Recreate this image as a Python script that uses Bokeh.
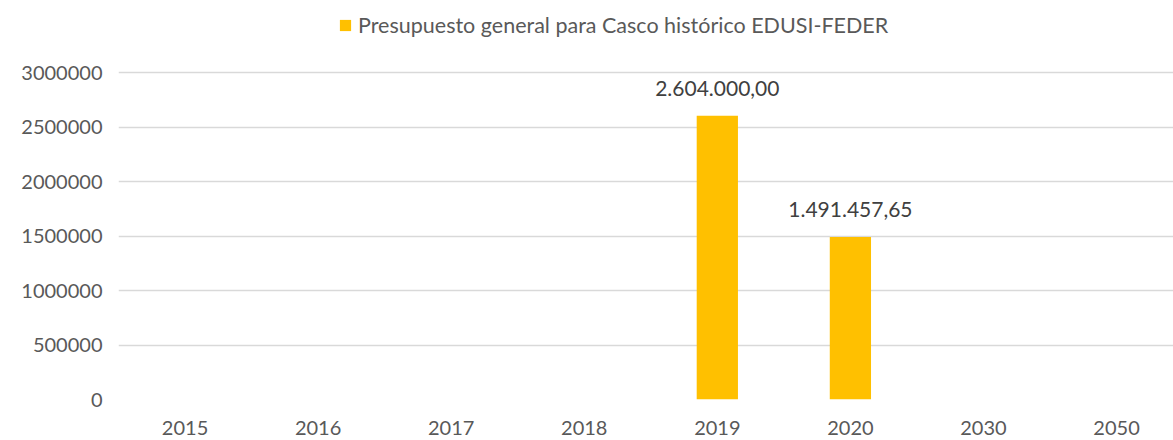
from bokeh.plotting import figure
from bokeh.models import (ColumnDataSource, Range1d, FixedTicker, NumeralTickFormatter,
                          Legend, LegendItem, LabelSet)
from bokeh.core.properties import value
from bokeh.embed import file_html
from bokeh.resources import INLINE

years = ["2015", "2016", "2017", "2018", "2019", "2020", "2030", "2050"]
values = [None, None, None, None, 2604000.00, 1491457.65, None, None]
series_name = "Presupuesto general para Casco histórico EDUSI-FEDER"
y_ticks = [0, 500000, 1000000, 1500000, 2000000, 2500000, 3000000]

FONT = "Lato"
BAR = "#FFC000"


def es_fmt(v):
    s = f"{v:,.2f}"
    return s.replace(",", "X").replace(".", ",").replace("X", ".")


xs, tops, labels = [], [], []
for i, (yr, v) in enumerate(zip(years, values)):
    if v is not None:
        xs.append(i + 0.5)
        tops.append(v)
        labels.append(es_fmt(v))
src = ColumnDataSource(dict(x=xs, top=tops, label=labels))

# frame spans the full height above the axis; headroom holds the legend
y_top = max(y_ticks) * 399 / 327
p = figure(width=1173, height=440, output_backend="svg", toolbar_location=None,
           x_range=Range1d(0, 7.928), y_range=Range1d(0, y_top),
           min_border_left=118, min_border_right=0, min_border_top=0, min_border_bottom=41)
p.outline_line_color = None
p.background_fill_color = "white"
p.border_fill_color = "white"

r = p.vbar(x="x", top="top", width=0.31, source=src, fill_color=BAR, line_color=None)

p.add_layout(LabelSet(x="x", y="top", text="label", source=src, text_align="center",
                      text_baseline="bottom", y_offset=20, text_font=value(FONT),
                      text_font_size="21px", text_color="#404040"))

p.xaxis.ticker = FixedTicker(ticks=[i + 0.5 for i in range(len(years))])
p.xaxis.major_label_overrides = {i + 0.5: y for i, y in enumerate(years)}
p.yaxis.ticker = FixedTicker(ticks=y_ticks)
p.yaxis.formatter = NumeralTickFormatter(format="0")
for ax in (p.xaxis, p.yaxis):
    ax.axis_line_color = None
    ax.major_tick_line_color = None
    ax.minor_tick_line_color = None
    ax.major_label_text_font = FONT
    ax.major_label_text_font_size = "20px"
    ax.major_label_text_color = "#595959"
p.xaxis.major_label_standoff = 15
p.yaxis.major_label_standoff = 10

p.xgrid.grid_line_color = None
p.ygrid.grid_line_color = "#D9D9D9"
p.ygrid.grid_line_width = 1.5

legend = Legend(items=[LegendItem(label=series_name, renderers=[r])],
                location=(220, 361), orientation="horizontal",
                glyph_width=14, glyph_height=14, label_standoff=6,
                label_text_font=FONT, label_text_font_size="21.5px",
                label_text_color="#595959", border_line_color=None,
                background_fill_alpha=0, padding=0, margin=0, spacing=0)
p.add_layout(legend, "center")

open("out.html", "w").write(file_html(p, INLINE))
